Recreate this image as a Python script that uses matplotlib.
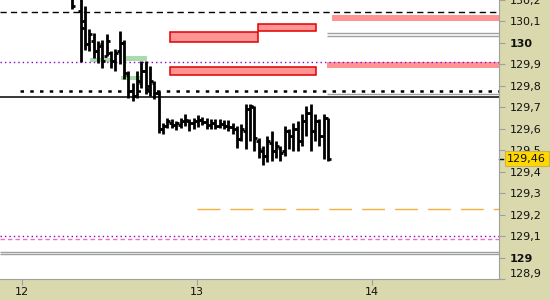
#!/usr/bin/env python
# Intraday OHLC bars with support/resistance levels and zones
import numpy as np
import matplotlib.pyplot as plt
from matplotlib.patches import Rectangle

# bar data (time in days, one bar every ~36 min)
first_bar = 12.2857
bar_step = 0.0248
highs = [130.24, 130.33, 130.22, 130.174, 130.063, 130.044, 130.007, 130.012, 130.040, 129.961,
         129.970, 130.054, 130.012, 129.869, 129.813, 129.869, 129.915, 129.915, 129.892, 129.822,
         129.776, 129.628, 129.651, 129.646, 129.637, 129.651, 129.670, 129.646, 129.651, 129.665,
         129.656, 129.651, 129.646, 129.646, 129.646, 129.642, 129.642, 129.628, 129.614, 129.623,
         129.716, 129.716, 129.707, 129.558, 129.521, 129.568, 129.591, 129.544, 129.521, 129.614,
         129.600, 129.628, 129.637, 129.670, 129.707, 129.716, 129.670, 129.646, 129.670, 129.651]
lows = [130.156, 130.22, 129.91, 129.966, 129.961, 129.929, 129.906, 129.882, 129.938, 129.882,
        129.869, 129.901, 129.832, 129.744, 129.730, 129.744, 129.790, 129.762, 129.753, 129.739,
        129.582, 129.577, 129.605, 129.605, 129.595, 129.605, 129.614, 129.591, 129.600, 129.609,
        129.619, 129.600, 129.600, 129.600, 129.605, 129.600, 129.591, 129.577, 129.512, 129.544,
        129.507, 129.544, 129.498, 129.466, 129.429, 129.443, 129.452, 129.466, 129.452, 129.475,
        129.507, 129.498, 129.498, 129.521, 129.568, 129.498, 129.544, 129.521, 129.461, 129.452]
opens = [130.21, 130.30, 130.15, 130.10, 129.994, 130.007, 129.961, 129.994, 129.938, 129.952,
         129.915, 129.961, 129.998, 129.850, 129.776, 129.753, 129.813, 129.869, 129.799, 129.813,
         129.767, 129.600, 129.614, 129.628, 129.619, 129.619, 129.637, 129.637, 129.628, 129.637,
         129.642, 129.632, 129.619, 129.628, 129.614, 129.623, 129.614, 129.609, 129.600, 129.554,
         129.591, 129.693, 129.702, 129.544, 129.498, 129.475, 129.535, 129.498, 129.512, 129.498,
         129.591, 129.568, 129.600, 129.544, 129.637, 129.674, 129.591, 129.637, 129.568, 129.651]
closes = [130.17, 130.25, 130.07, 129.994, 130.040, 129.961, 129.984, 129.915, 130.007, 129.915,
          129.952, 129.998, 129.859, 129.776, 129.753, 129.822, 129.869, 129.785, 129.822, 129.767,
          129.600, 129.614, 129.637, 129.619, 129.628, 129.637, 129.642, 129.628, 129.637, 129.642,
          129.632, 129.619, 129.628, 129.614, 129.623, 129.614, 129.609, 129.600, 129.554, 129.600,
          129.693, 129.707, 129.558, 129.507, 129.475, 129.544, 129.498, 129.521, 129.489, 129.591,
          129.568, 129.600, 129.544, 129.637, 129.674, 129.591, 129.637, 129.568, 129.651, 129.46]
last_price = 129.46

# boxed zones (red edge)
box_start = [12.846, 13.347, 12.846]
box_end = [13.349, 13.68, 13.68]
box_low = [130.004, 130.057, 129.851]
box_high = [130.049, 130.090, 129.887]

# filled bands without edge
band_start = [13.771, 13.743]
band_low = [130.100, 129.882]
band_high = [130.128, 129.910]

# green zones
green_start = [12.389, 12.594, 12.566]
green_end = [12.514, 12.714, 12.680]
green_low = [129.910, 129.915, 129.827]
green_high = [129.929, 129.938, 129.845]

# horizontal levels
grey_levels = [130.047, 130.031, 129.761]
grey_start = 13.743
grey_full = [129.027, 129.015]
black_dash_level = 130.142
black_dot_level = 129.777
black_dot_start = 11.989
black_line_level = 129.748
orange_level = 129.224
orange_start = 13.0
purple_levels = [129.909, 129.1]
pink_level = 129.086

yticks = [128.9, 129.0, 129.1, 129.2, 129.3, 129.4, 129.5, 129.6, 129.7, 129.8, 129.9, 130.0, 130.1, 130.2]
xticks = [12, 13, 14]

bg = '#d9d9ad'
x0, x1 = 11.874, 14.726

fig = plt.figure(figsize=(5.5, 3), dpi=100, facecolor=bg)
ax = fig.add_axes([0, 21/300, 499/550, 279/300])
ax.set_facecolor('white')
ax.set_xlim(x0, x1)
ax.set_ylim(128.901, 130.193)

# zones
for s, e, lo, hi in zip(green_start, green_end, green_low, green_high):
    ax.add_patch(Rectangle((s, lo), e - s, hi - lo, fc='#a8dca8', ec='none', zorder=1))
for s, lo, hi in zip(band_start, band_low, band_high):
    ax.add_patch(Rectangle((s, lo), x1 - s, hi - lo, fc='#ff9494', ec='none', zorder=1))
for s, e, lo, hi in zip(box_start, box_end, box_low, box_high):
    ax.add_patch(Rectangle((s, lo), e - s, hi - lo, fc='#ff9494', ec='#e00000', lw=1.1, zorder=1.5))

# levels
ax.hlines(grey_levels, grey_start, x1, color='#a0a0a0', lw=1, zorder=1.2)
ax.hlines(grey_full, x0, x1, color='#a0a0a0', lw=1, zorder=1.2)
ax.hlines(black_dash_level, x0, x1, color='black', lw=1, linestyles=(0, (4.5, 3)), zorder=1.2)
ax.hlines(black_dot_level, black_dot_start, x1, color='black', lw=1.8, linestyles=(0, (1.4, 2.5)), zorder=1.2)
ax.hlines(black_line_level, x0, x1, color='black', lw=1.1, zorder=1.2)
ax.hlines(orange_level, orange_start, x1, color='#f2b040', lw=1, linestyles=(0, (16.5, 7.2)), zorder=1.2)
ax.hlines(purple_levels, x0, x1, color='#8a00d0', lw=1, linestyles=(0, (1, 2.2)), zorder=1.3)
ax.hlines(pink_level, x0, x1, color='#f070c0', lw=1, linestyles=(0, (3.2, 2.2)), zorder=1.2)

# OHLC bars
t = first_bar + bar_step * np.arange(len(highs))
w = 0.016
ax.vlines(t, lows, highs, color='black', lw=2.0, zorder=3)
ax.hlines(opens, t - w, t, color='black', lw=2.0, zorder=3)
ax.hlines(closes, t, t + w, color='black', lw=2.0, zorder=3)

# axes styling
for side in ['left', 'top']:
    ax.spines[side].set_visible(False)
for side in ['right', 'bottom']:
    ax.spines[side].set_color('#a0a0a0')
ax.yaxis.tick_right()
ax.set_yticks(yticks)
ylabels = []
for v in yticks:
    ylabels.append(str(int(round(v))) if abs(v - round(v)) < 1e-6 else f"{v:.1f}".replace('.', ','))
ax.set_yticklabels(ylabels)
ax.set_xticks(xticks)
ax.set_xticklabels([str(x) for x in xticks])
ax.tick_params(axis='both', direction='out', length=4, color='#a0a0a0', labelsize=8, labelcolor='#111111')
ax.tick_params(axis='y', pad=4)
ax.tick_params(axis='x', pad=2)
for lbl, v in zip(ax.get_yticklabels(), yticks):
    if abs(v - round(v)) < 1e-6:
        lbl.set_fontweight('bold')
    if v == yticks[0]:
        lbl.set_va('bottom')

# current price marker
ytr = ax.get_yaxis_transform()
ax.plot([1.0, 1.009], [last_price, last_price], transform=ytr, color='black', lw=1, clip_on=False)
ax.text(1.0165, last_price, f"{last_price:.2f}".replace('.', ','), transform=ytr, fontsize=8,
        va='center', ha='left', color='#111111', zorder=10, clip_on=False,
        bbox=dict(boxstyle='square,pad=0.22', fc='#ffd700', ec='#c8b450', lw=0.8))

plt.savefig('out.png', dpi=100, facecolor=bg)
